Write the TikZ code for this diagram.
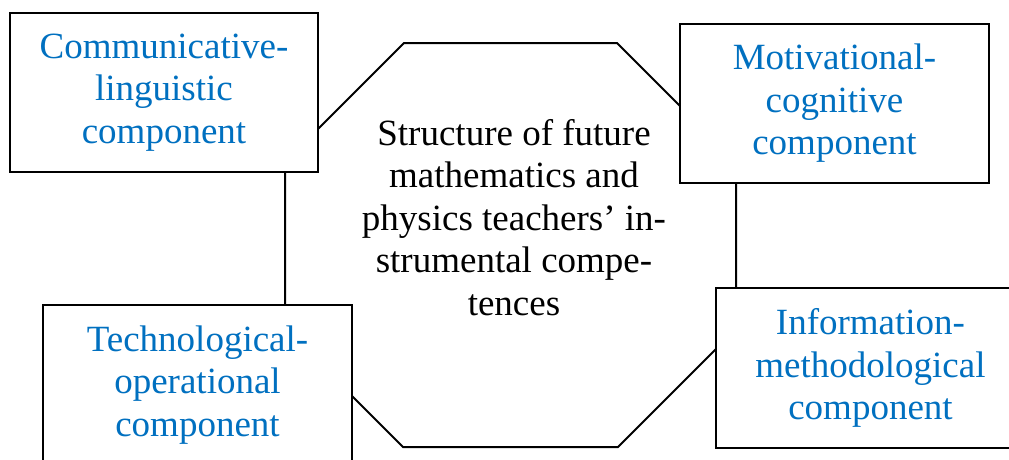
\documentclass[tikz,border=0pt]{standalone}
\usepackage{fontspec}
\setmainfont{Liberation Serif}
\definecolor{compblue}{HTML}{0070C0}
\tikzset{
  comp/.style={draw=black, line width=2pt, fill=white, rectangle, align=center,
    text=compblue, inner sep=0pt, font=\fontsize{37}{42.5}\selectfont},
  octa/.style={draw=black, line width=2pt, line join=miter},
  core/.style={align=center, inner sep=0pt, text=black, font=\fontsize{37}{42.5}\selectfont}
}
\begin{document}
\begin{tikzpicture}[x=1pt,y=-1pt]
\useasboundingbox (0,0) rectangle (1009,459);
% octagon (structure)
\coordinate (o1) at (404,43);
\coordinate (o2) at (617,43);
\coordinate (o3) at (736,162);
\coordinate (o4) at (736,329);
\coordinate (o5) at (618,447);
\coordinate (o6) at (403,447);
\coordinate (o7) at (285,329);
\coordinate (o8) at (285,162);
\draw[octa] (o1) -- (o2) -- (o3) -- (o4) -- (o5) -- (o6) -- (o7) -- (o8) -- cycle;
\node[core, anchor=north] (core) at (514,119)
  {Structure of future\\mathematics and\\physics teachers’ in-\\strumental compe-\\tences};
% component boxes
\node[comp, minimum width=308pt, minimum height=159pt] (cl) at (164,92.5)
  {Communicative-\\linguistic\\component};
\node[comp, minimum width=309pt, minimum height=159pt] (mc) at (834.5,103.5)
  {Motivational-\\cognitive\\component};
\node[comp, minimum width=309pt, minimum height=160pt] (to) at (197.5,385)
  {Technological-\\operational\\component};
\node[comp, minimum width=309pt, minimum height=160pt] (im) at (870.5,368)
  {Information-\\methodological\\component};
\end{tikzpicture}
\end{document}
